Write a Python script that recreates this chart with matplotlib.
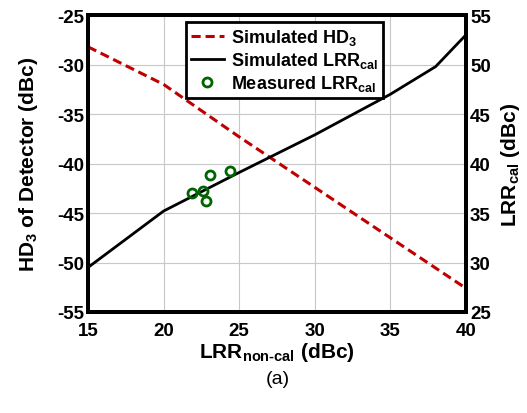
import matplotlib.pyplot as plt
import matplotlib.font_manager as fm

# font: narrow bold sans if available
names = set(f.name for f in fm.fontManager.ttflist)
fam = 'Liberation Sans Narrow' if 'Liberation Sans Narrow' in names else 'Liberation Sans'
plt.rcParams['font.family'] = [fam, 'DejaVu Sans']
plt.rcParams['mathtext.fontset'] = 'custom'
plt.rcParams['mathtext.rm'] = fam + ':bold'
plt.rcParams['mathtext.default'] = 'rm'

# simulated HD3 (left axis)
hd3_x = [15, 20, 25, 30, 35, 40]
hd3_y = [-28.2, -32.0, -37.3, -42.4, -47.5, -52.6]

# simulated LRR_cal (right axis)
lrr_x = [15, 20, 25, 30, 35, 38, 40]
lrr_y = [29.5, 35.2, 39.1, 42.9, 47.0, 49.8, 53.0]

# measured LRR_cal (right axis)
meas_x = [21.9, 22.6, 22.8, 23.1, 24.4]
meas_y = [37.0, 37.2, 36.2, 38.8, 39.2]

fig = plt.figure(figsize=(5.27, 4.14), dpi=100)
ax = fig.add_axes([0.167, 0.244, 0.717, 0.717])
ax2 = ax.twinx()

l1, = ax.plot(hd3_x, hd3_y, '--', color='#c00000', lw=2.2, dashes=(3, 1.6))
l2, = ax2.plot(lrr_x, lrr_y, '-', color='black', lw=2)
l3, = ax2.plot(meas_x, meas_y, 'o', mfc='none', mec='#006400', mew=2, ms=6.5)

ax.set_xlim(15, 40)
ax.set_ylim(-55, -25)
ax2.set_ylim(25, 55)
ax.set_xticks([15, 20, 25, 30, 35, 40])
ax.set_yticks([-55, -50, -45, -40, -35, -30, -25])
ax2.set_yticks([25, 30, 35, 40, 45, 50, 55])
ax.set_yticklabels(['-55', '-50', '-45', '-40', '-35', '-30', '-25'])
ax.grid(True, color='#c8c8c8', lw=0.8)
ax.set_axisbelow(True)

for a in (ax, ax2):
    a.tick_params(length=0, labelsize=13.5, pad=3)
    for s in a.spines.values():
        s.set_linewidth(2.8)
    for t in a.get_xticklabels() + a.get_yticklabels():
        t.set_fontweight('bold')
ax.tick_params(axis='x', pad=7)

ax.set_xlabel('LRR$_{non\\text{-}cal}$ (dBc)', fontsize=15, fontweight='bold', labelpad=1)
ax.set_ylabel('HD$_3$ of Detector (dBc)', fontsize=15, fontweight='bold', labelpad=12)
ax2.set_ylabel('LRR$_{cal}$ (dBc)', fontsize=15, fontweight='bold', labelpad=6)

leg = ax.legend([l1, l2, l3],
                ['Simulated HD$_3$', 'Simulated LRR$_{cal}$', 'Measured LRR$_{cal}$'],
                loc='upper center', bbox_to_anchor=(0.52, 0.995), fancybox=False,
                framealpha=1, edgecolor='black', handlelength=1.8, handletextpad=0.4,
                borderpad=0.3, labelspacing=0.15, borderaxespad=0.3,
                prop={'weight': 'bold', 'size': 13})
leg.get_frame().set_linewidth(2)

fig.text(0.528, 0.083, '(a)', ha='center', va='center', fontsize=14)

fig.savefig('out.png', dpi=100)
